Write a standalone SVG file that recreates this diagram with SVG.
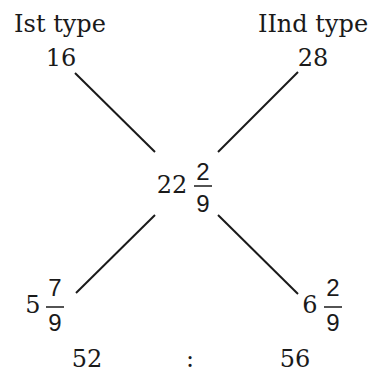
<svg xmlns="http://www.w3.org/2000/svg" width="371" height="372" viewBox="0 0 371 372">
<style>
.t{font-family:"DejaVu Serif","Liberation Serif",serif;font-size:24px;fill:#1a1a1a;text-anchor:middle}
.f{font-family:"Liberation Sans","DejaVu Sans",sans-serif;font-size:24px;fill:#1a1a1a;text-anchor:middle}
.c line{stroke:#1a1a1a;stroke-width:2}
.bar{stroke:#1a1a1a;stroke-width:1.5}
</style>
<rect width="371" height="372" fill="#fff"/>
<g id="type1"><text class="t" x="60" y="32">Ist type</text><text class="t" x="61" y="66">16</text></g>
<g id="type2"><text class="t" x="313" y="32">IInd type</text><text class="t" x="313" y="66">28</text></g>
<g id="mean"><text class="t" x="172" y="193">22</text><text class="f" x="203" y="180">2</text><line class="bar" x1="194" y1="186" x2="212" y2="186"/><text class="f" x="203" y="212">9</text></g>
<g id="diff1"><text class="t" x="33" y="313">5</text><text class="f" x="55" y="296">7</text><line class="bar" x1="46" y1="307" x2="64" y2="307"/><text class="f" x="55" y="331">9</text></g>
<g id="diff2"><text class="t" x="310" y="313">6</text><text class="f" x="333" y="296">2</text><line class="bar" x1="324" y1="307" x2="342" y2="307"/><text class="f" x="333" y="331">9</text></g>
<g id="ratio"><text class="t" x="87" y="367">52</text><text class="t" x="190" y="367">:</text><text class="t" x="295" y="367">56</text></g>
<g id="connectors" class="c">
<line x1="75" y1="73" x2="155" y2="152"/>
<line x1="298" y1="72" x2="218" y2="152"/>
<line x1="155" y1="215" x2="76" y2="293"/>
<line x1="218" y1="215" x2="298" y2="294"/>
</g>
</svg>
